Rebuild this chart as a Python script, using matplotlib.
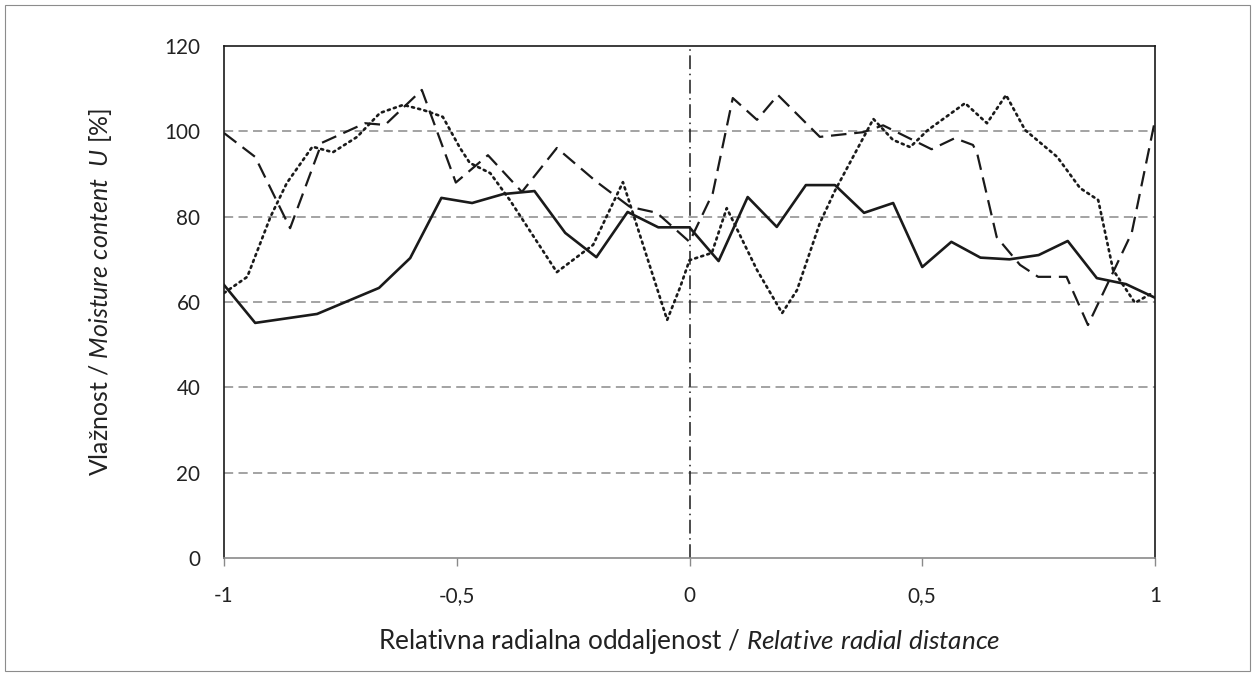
import numpy as np
import matplotlib
matplotlib.use("Agg")
import matplotlib.pyplot as plt
from matplotlib.patches import Rectangle

# Podaci ocitani s grafa (relativna radijalna udaljenost, vlaznost %)
x_puna = [-1, -0.933, -0.8, -0.667, -0.6, -0.533, -0.467, -0.4, -0.333, -0.267,
          -0.2, -0.133, -0.067, 0, 0.0625, 0.125, 0.1875, 0.25, 0.3125, 0.375,
          0.4375, 0.5, 0.5625, 0.625, 0.6875, 0.75, 0.8125, 0.875, 0.9375, 1.0]
y_puna = [64, 55.1, 57.2, 63.3, 70.3, 84.4, 83.2, 85.3, 86.0, 76.2,
          70.5, 81.1, 77.5, 77.5, 69.6, 84.6, 77.6, 87.4, 87.4, 80.9,
          83.2, 68.2, 74.1, 70.4, 70.0, 71.0, 74.3, 65.6, 64.2, 61.0]

x_crtkana = [-1, -0.933, -0.858, -0.79, -0.697, -0.654, -0.575, -0.502, -0.433, -0.36,
             -0.285, -0.2, -0.128, -0.07, 0, 0.05, 0.093, 0.145, 0.19, 0.28,
             0.373, 0.416, 0.52, 0.57, 0.609, 0.618, 0.66, 0.71, 0.749, 0.81,
             0.856, 0.91, 0.95, 1.0]
y_crtkana = [99.6, 94.0, 77.3, 97.3, 101.9, 101.5, 109.7, 88.0, 94.4, 85.8,
             96.1, 88.2, 82.3, 80.9, 74.1, 85.5, 107.8, 102.7, 108.5, 98.7,
             99.8, 101.4, 95.8, 98.4, 96.8, 94.8, 75.2, 68.7, 65.9, 65.9,
             54.6, 67.0, 76.2, 102.6]

x_tockasta = [-1, -0.95, -0.9, -0.865, -0.81, -0.766, -0.714, -0.665, -0.615, -0.572,
              -0.53, -0.493, -0.472, -0.428, -0.386, -0.285, -0.207, -0.143, -0.048, -0.02,
              0, 0.048, 0.08, 0.145, 0.199, 0.231, 0.28, 0.313, 0.395, 0.437,
              0.474, 0.512, 0.592, 0.639, 0.68, 0.721, 0.79, 0.839, 0.878, 0.91,
              0.957, 0.994]
y_tockasta = [62.1, 65.9, 80.0, 87.9, 96.4, 95.1, 98.7, 104.3, 106.2, 105.0,
              103.4, 96.1, 92.6, 90.2, 83.9, 67.0, 73.4, 88.1, 55.8, 63.5,
              69.8, 71.5, 82.0, 67.5, 57.4, 62.8, 78.5, 86.2, 102.9, 98.0,
              96.3, 100.3, 106.6, 101.9, 108.5, 100.3, 94.0, 86.7, 83.9, 67.5,
              59.8, 62.1]

y_ticks = [0, 20, 40, 60, 80, 100, 120]
x_ticks = [-1, -0.5, 0, 0.5, 1]
x_tick_labels = ['-1', '-0,5', '0', '0,5', '1']

xlabel_txt = r'Relativna radialna oddaljenost / $\mathit{Relative\ radial\ distance}$'
ylabel_txt = r'Vlažnost / $\mathit{Moisture\ content}$  $\mathit{U}$ [%]'

plt.rcParams['font.family'] = ['Lato', 'DejaVu Sans']
plt.rcParams['mathtext.fontset'] = 'custom'
plt.rcParams['mathtext.rm'] = 'Lato'
plt.rcParams['mathtext.it'] = 'Lato:italic'

fig = plt.figure(figsize=(12.55, 6.76), dpi=100)
renderer = fig.canvas.get_renderer()


def fit_size(txt, target_px):
    # velicina fonta tako da sirina teksta bude target_px
    t = fig.text(0, 0, txt, fontsize=10)
    w = t.get_window_extent(renderer).width
    t.remove()
    return 10 * target_px / w


tick_fs = fit_size('120', 36)
xlab_fs = fit_size(xlabel_txt, 625)
ylab_fs = fit_size(ylabel_txt, 370)

ax = fig.add_axes([224 / 1255, 118 / 676, 931 / 1255, 512 / 676])

# okvir oko cijele slike
fig.patches.append(Rectangle((5 / 1255, 5 / 676), 1245 / 1255, 666 / 676,
                             transform=fig.transFigure, fill=False,
                             edgecolor='#8c8c8c', linewidth=0.8))

for yv in y_ticks[1:-1]:
    ax.axhline(yv, color='#8a8a8a', linestyle=(0, (6, 3.5)), linewidth=1.1, zorder=1)

ax.axvline(0, color='#1a1a1a', linestyle=(0, (9, 3, 1, 3)), linewidth=1.1, zorder=2)

ax.plot(x_puna, y_puna, color='#1a1a1a', linewidth=1.9, zorder=3)
ax.plot(x_crtkana, y_crtkana, color='#1a1a1a', linewidth=1.6,
        linestyle=(0, (7, 3.5)), zorder=3)
ax.plot(x_tockasta, y_tockasta, color='#1a1a1a', linewidth=1.9,
        linestyle=(0, (0.8, 1.6)), dash_capstyle='round', zorder=3)

ax.set_xlim(-1, 1)
ax.set_ylim(0, 120)
ax.set_xticks(x_ticks)
ax.set_xticklabels(x_tick_labels)
ax.set_yticks(y_ticks)

for s in ['left', 'top', 'right']:
    ax.spines[s].set_color('#1a1a1a')
    ax.spines[s].set_linewidth(1.2)
ax.spines['bottom'].set_color('#8a8a8a')
ax.spines['bottom'].set_linewidth(1.2)

ax.tick_params(axis='x', direction='out', length=6, width=1, color='#8a8a8a',
               labelsize=tick_fs, pad=14, labelcolor='#222222')
ax.tick_params(axis='y', length=0, labelsize=tick_fs, pad=17, labelcolor='#222222')

ax.set_xlabel(xlabel_txt, fontsize=xlab_fs, color='#222222', va='center')
ax.xaxis.set_label_coords(0.5, (34 - 118) / 512)
ax.set_ylabel(ylabel_txt, fontsize=ylab_fs, color='#222222', va='center')
ax.yaxis.set_label_coords((100 - 224) / 931, (676 - 292 - 118) / 512)

fig.savefig('out.png', dpi=100)
